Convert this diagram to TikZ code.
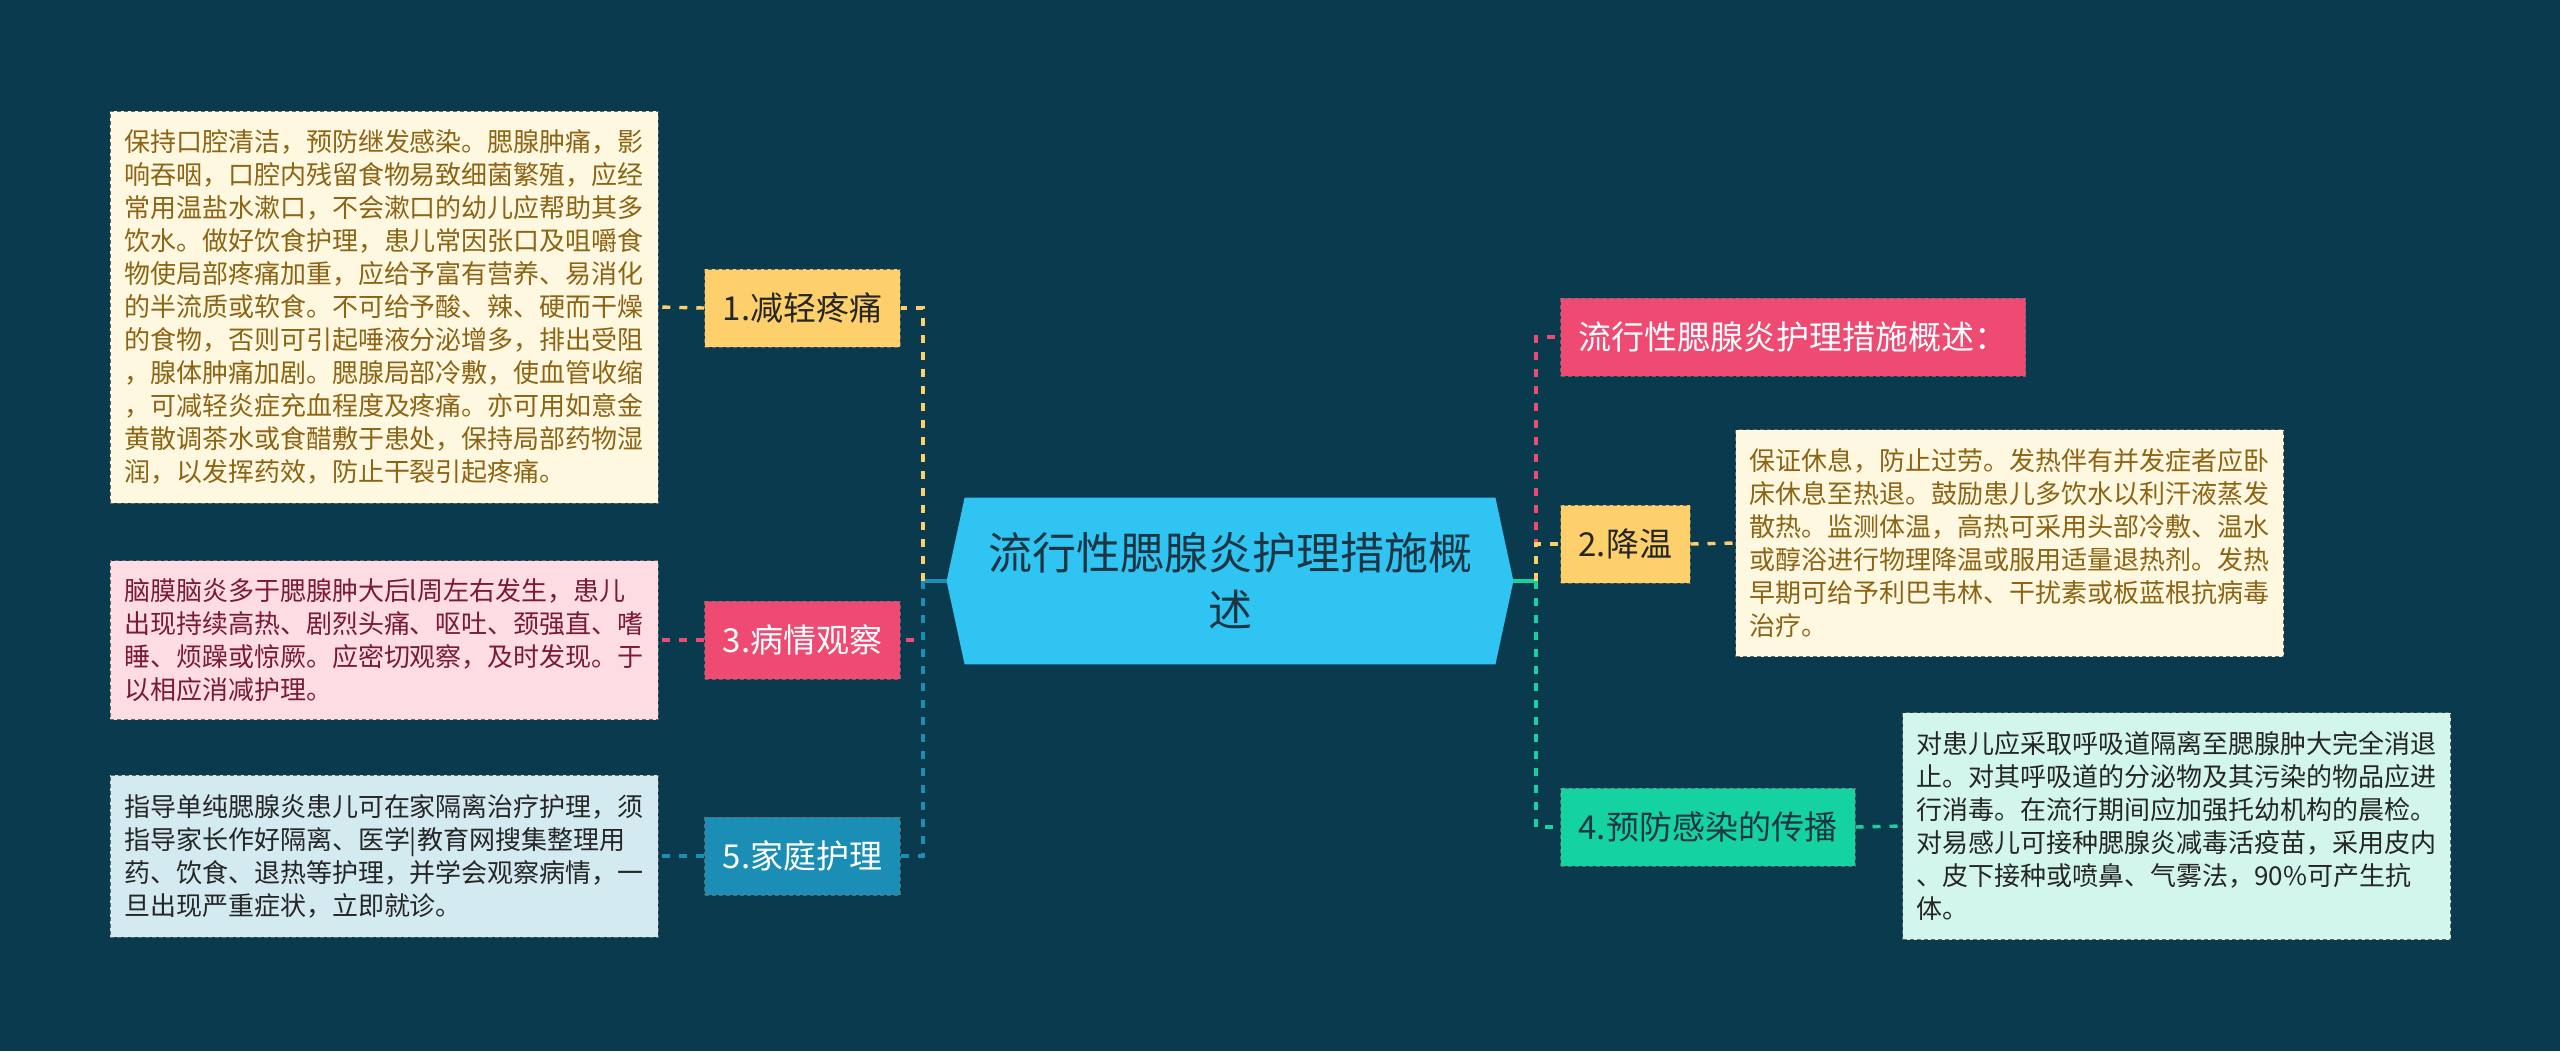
\documentclass[tikz,border=0pt]{standalone}
\usepackage{fontspec}
\setmainfont{Noto Sans CJK SC}
\usetikzlibrary{positioning,backgrounds}

\definecolor{bgcol}{HTML}{093A4E}
\definecolor{hubcol}{HTML}{2FC4F2}
\definecolor{yelcol}{HTML}{FDD06B}
\definecolor{pnkcol}{HTML}{EF4A72}
\definecolor{blucol}{HTML}{1B8EB6}
\definecolor{grncol}{HTML}{14D3A0}
\definecolor{creamcol}{HTML}{FFF8E1}
\definecolor{rosecol}{HTML}{FDDDE3}
\definecolor{skycol}{HTML}{D3EAF1}
\definecolor{mintcol}{HTML}{D3F6EC}
\definecolor{darktxt}{HTML}{1E3644}

\begin{document}
\begin{tikzpicture}[
    x=0.5pt, y=-0.5pt,
    hub/.style={align=center, text=darktxt, minimum width=265pt,
                minimum height=83pt, inner sep=0pt,
                font=\fontsize{22}{28.5}\selectfont},
    branch/.style={draw=black!60, line width=0.5pt, dash pattern=on 2pt off 1.5pt,
                   minimum height=39pt, inner xsep=9pt,
                   font=\fontsize{16.5}{20}\selectfont},
    leaf/.style={draw=black!60, line width=0.5pt, dash pattern=on 2pt off 1.5pt,
                 text width=260pt, align=left, inner xsep=7pt, inner ysep=8pt,
                 font=\fontsize{13}{16.5}\selectfont},
    link/.style={line width=1.7pt, dash pattern=on 4pt off 4.5pt},
    stem/.style={line width=1.7pt},
]
\useasboundingbox (0,0) rectangle (2560,1051);

%% central topic
\node[hub] (hub) at (1230,581) {流行性腮腺炎护理措施概\\述};
\begin{scope}[on background layer]
  \fill[bgcol] (0,0) rectangle (2560,1051);
  \fill[hubcol] (hub.north west) -- (hub.north east) -- ([xshift=9pt]hub.east)
    -- (hub.south east) -- (hub.south west) -- ([xshift=-9pt]hub.west) -- cycle;
\end{scope}

%% left branches
\node[branch, fill=yelcol, text=black!85, minimum width=97.5pt] (b1) at (802.5,308) {1.减轻疼痛};
\node[branch, fill=pnkcol, text=white, minimum width=97.5pt] (b3) at (802.5,640) {3.病情观察};
\node[branch, fill=blucol, text=white, minimum width=97.5pt] (b5) at (802.5,856) {5.家庭护理};

\node[leaf, fill=creamcol, text={rgb,255:red,140;green,100;blue,20}, minimum height=196pt] (n1) at (384,307) {%
保持口腔清洁，预防继发感染。腮腺肿痛，影\\
响吞咽，口腔内残留食物易致细菌繁殖，应经\\
常用温盐水漱口，不会漱口的幼儿应帮助其多\\
饮水。做好饮食护理，患儿常因张口及咀嚼食\\
物使局部疼痛加重，应给予富有营养、易消化\\
的半流质或软食。不可给予酸、辣、硬而干燥\\
的食物，否则可引起唾液分泌增多，排出受阻\\
，腺体肿痛加剧。腮腺局部冷敷，使血管收缩\\
，可减轻炎症充血程度及疼痛。亦可用如意金\\
黄散调茶水或食醋敷于患处，保持局部药物湿\\
润，以发挥药效，防止干裂引起疼痛。};
\node[leaf, fill=rosecol, text={rgb,255:red,122;green,26;blue,53}, minimum height=79.5pt] (n3) at (384,640) {%
脑膜脑炎多于腮腺肿大后l周左右发生，患儿\\
出现持续高热、剧烈头痛、呕吐、颈强直、嗜\\
睡、烦躁或惊厥。应密切观察，及时发现。于\\
以相应消减护理。};
\node[leaf, fill=skycol, text=black!85, minimum height=81pt] (n5) at (384,856) {%
指导单纯腮腺炎患儿可在家隔离治疗护理，须\\
指导家长作好隔离、医学|教育网搜集整理用\\
药、饮食、退热等护理，并学会观察病情，一\\
旦出现严重症状，立即就诊。};

%% right branches
\node[branch, fill=pnkcol, text=white, anchor=west] (r1) at (1560,337) {流行性腮腺炎护理措施概述：};
\node[branch, fill=yelcol, text=black!85, anchor=west] (r2) at (1560,544) {2.降温};
\node[branch, fill=grncol, text=darktxt, anchor=west] (r4) at (1560,827) {4.预防感染的传播};

\node[leaf, fill=creamcol, text={rgb,255:red,140;green,100;blue,20}, minimum height=113.5pt, anchor=west] (n2) at (1735,543) {%
保证休息，防止过劳。发热伴有并发症者应卧\\
床休息至热退。鼓励患儿多饮水以利汗液蒸发\\
散热。监测体温，高热可采用头部冷敷、温水\\
或醇浴进行物理降温或服用适量退热剂。发热\\
早期可给予利巴韦林、干扰素或板蓝根抗病毒\\
治疗。};
\node[leaf, fill=mintcol, text=black!85, minimum height=113.5pt, anchor=west] (n4) at (1902,826) {%
对患儿应采取呼吸道隔离至腮腺肿大完全消退\\
止。对其呼吸道的分泌物及其污染的物品应进\\
行消毒。在流行期间应加强托幼机构的晨检。\\
对易感儿可接种腮腺炎减毒活疫苗，采用皮内\\
、皮下接种或喷鼻、气雾法，90\%可产生抗\\
体。};

%% connectors, left
\coordinate (lbus) at (923,581);
\draw[stem, blucol] ([xshift=-9pt]hub.west) -- (lbus);
\draw[link, yelcol] (lbus) |- (b1.east);
\draw[link, pnkcol] (lbus) |- (b3.east);
\draw[link, blucol] (lbus) |- (b5.east);
\draw[link, yelcol] (b1.west) -- (n1.east);
\draw[link, pnkcol] (b3.west) -- (n3.east);
\draw[link, blucol] (b5.west) -- (n5.east);

%% connectors, right
\coordinate (rbus) at (1536,581);
\draw[stem, grncol] ([xshift=9pt]hub.east) -- (rbus);
\draw[link, pnkcol] (rbus) |- (r1.west);
\draw[link, yelcol] (rbus) |- (r2.west);
\draw[link, grncol] (rbus) |- (r4.west);
\draw[link, yelcol] (r2.east) -- (n2.west);
\draw[link, grncol] (r4.east) -- (n4.west);

\end{tikzpicture}
\end{document}
